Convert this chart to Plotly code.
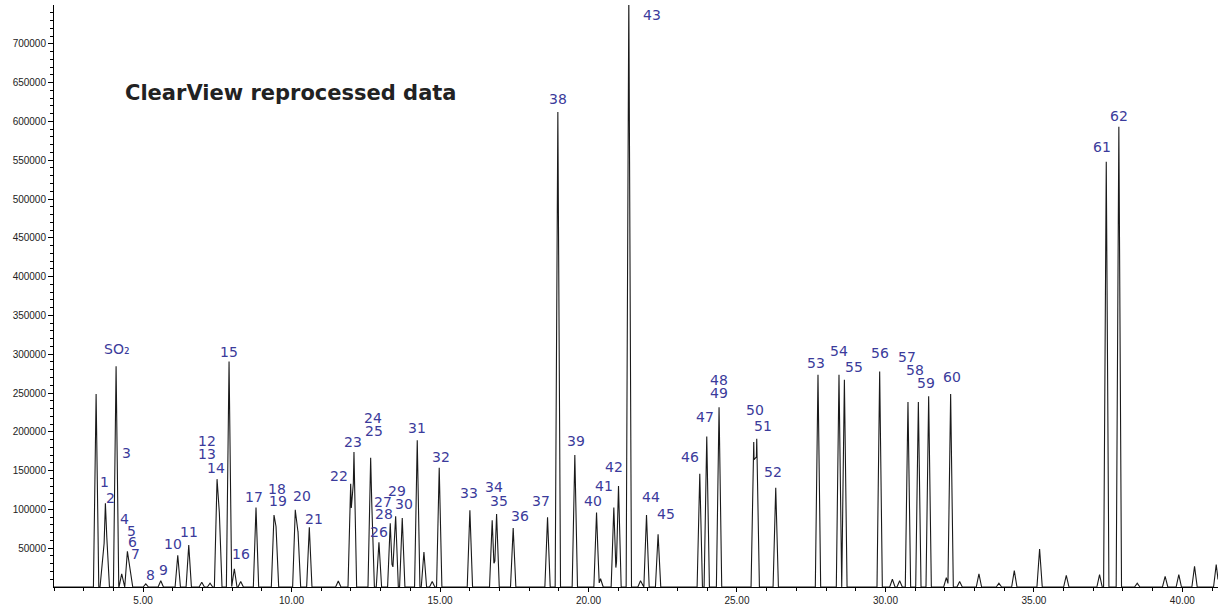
import plotly.graph_objects as go

# ---- data ----
peak_time = [3.418, 3.640, 3.731, 3.778, 4.091, 4.280, 4.472, 4.562, 5.091, 5.596,
             6.168, 6.538, 6.976, 7.255, 7.491, 7.568, 7.895, 8.073, 8.288, 8.803,
             9.409, 9.477, 10.126, 10.217, 10.598, 11.574, 11.991, 12.045, 12.102, 12.664,
             12.700, 12.943, 13.324, 13.472, 13.506, 13.728, 14.233, 14.458, 14.737, 14.973,
             16.006, 16.757, 16.905, 17.464, 18.621, 18.968, 19.540, 20.271, 20.406, 20.853,
             21.011, 21.358, 21.752, 21.954, 22.344, 23.748, 23.983, 24.397, 25.565, 25.666,
             26.306, 27.729, 28.436, 28.618, 29.806, 30.234, 30.479, 30.759, 31.109, 31.456,
             32.051, 32.196, 32.499, 33.149, 33.822, 34.340, 35.192, 36.091, 37.211, 37.437,
             37.861, 38.480, 39.420, 39.880, 40.410, 41.140]
peak_height = [248700, 41000, 108000, 64000, 284600, 17000, 46000, 22000, 4000, 8000,
               41000, 54000, 6000, 5000, 139000, 96000, 290600, 23500, 7000, 102500,
               92700, 78000, 99600, 72000, 77000, 7700, 133000, 120000, 174000, 166700,
               110000, 57700, 82000, 73000, 91000, 88800, 189000, 45000, 7000, 153800,
               99000, 86000, 94000, 76000, 89700, 612000, 170000, 96000, 10600, 102500,
               130000, 760000, 8000, 92700, 68000, 146000, 194000, 231700, 186800, 191000,
               128000, 273500, 273500, 267000, 277800, 10000, 8000, 238500, 238500, 245700,
               12000, 248700, 7000, 17000, 5000, 21000, 49000, 15000, 16000, 548000,
               593000, 5000, 13700, 16000, 26500, 29000]

label_text = ["SO₂", "1", "2", "3", "4", "5", "6", "7", "8", "9", "10", "11", "12", "13", "14",
              "15", "16", "17", "18", "19", "20", "21", "22", "23", "24", "25", "26", "27", "28",
              "29", "30", "31", "32", "33", "34", "35", "36", "37", "38", "39", "40", "41", "42",
              "43", "44", "45", "46", "47", "48", "49", "50", "51", "52", "53", "54", "55", "56",
              "57", "58", "59", "60", "61", "62"]
label_time = [4.115, 3.697, 3.889, 4.428, 4.371, 4.596, 4.653, 4.731, 5.259, 5.683, 6.020, 6.538,
              7.144, 7.144, 7.457, 7.885, 8.288, 8.736, 9.500, 9.554, 10.342, 10.756, 11.607,
              12.058, 12.731, 12.775, 12.933, 13.088, 13.112, 13.539, 13.795, 14.212, 15.030,
              15.983, 16.824, 16.993, 17.689, 18.386, 18.978, 19.574, 20.156, 20.517, 20.853,
              22.122, 22.089, 22.603, 23.411, 23.940, 24.397, 24.397, 25.623, 25.878, 26.215,
              27.676, 28.436, 28.941, 29.806, 30.725, 30.985, 31.355, 32.240, 37.302, 37.851]
label_level = [307200, 135900, 114900, 173100, 87900, 72200, 58100, 43100, 15400, 21800, 55100,
               70900, 188500, 171300, 153300, 302600, 42300, 115800, 126400, 110300, 117900,
               87900, 142700, 187200, 217400, 201300, 71300, 109400, 94400, 123500, 106400,
               205500, 167900, 121300, 128600, 110600, 91400, 110300, 628600, 187600, 110300,
               130800, 155100, 737200, 115800, 94400, 167100, 219600, 266700, 249500, 228200,
               207700, 148700, 288800, 303800, 283700, 301700, 296200, 279500, 262800, 270900,
               567400, 607200]

y_ticks = list(range(50000, 700001, 50000))
x_ticks = [5, 10, 15, 20, 25, 30, 35, 40]

# ---- build the trace: each peak is a narrow triangle, envelope taken at breakpoints ----
HALF = 0.09
pts = {2.0, 41.2}
for t in peak_time:
    pts.update([t - HALF, t, t + HALF])
xs = sorted(p for p in pts if 2.0 <= p <= 41.2)


def env(x):
    best = 0.0
    for t, h in zip(peak_time, peak_height):
        d = abs(x - t)
        if d < HALF:
            best = max(best, h * (1 - d / HALF))
    return best


ys = [env(x) for x in xs]

fig = go.Figure()
fig.add_trace(go.Scatter(x=xs, y=ys, mode="lines",
                         line=dict(color="#1a1a1a", width=1.1),
                         hoverinfo="skip", showlegend=False))

for txt, tx, ty in zip(label_text, label_time, label_level):
    fig.add_annotation(x=tx, y=ty, text=txt, showarrow=False,
                       xanchor="center", yanchor="middle",
                       font=dict(family="DejaVu Sans", size=14, color="#3b3b9b"))

fig.add_annotation(x=(123 - 54) / (1218 - 54), y=(590 - 93) / 585,
                   xref="paper", yref="paper",
                   text="<b>ClearView reprocessed data</b>", showarrow=False,
                   xanchor="left", yanchor="middle",
                   font=dict(family="DejaVu Sans", size=21, color="#222222"))

fig.update_layout(
    width=1218, height=606,
    margin=dict(l=54, r=0, t=5, b=16),
    paper_bgcolor="white", plot_bgcolor="white",
    font=dict(family="Liberation Sans", size=10, color="#222222"),
    xaxis=dict(range=[2.0, 41.2], showgrid=False, zeroline=False,
               showline=True, linecolor="black", linewidth=1,
               tickmode="array", tickvals=x_ticks,
               ticktext=[f"{v:.2f}" for v in x_ticks],
               ticks="outside", ticklen=4, tickcolor="black",
               minor=dict(dtick=1, ticks="outside", ticklen=3, tickcolor="black"),
               tickfont=dict(family="Liberation Sans", size=10, color="#222222")),
    yaxis=dict(range=[0, 750000], showgrid=False, zeroline=False,
               showline=True, linecolor="black", linewidth=1,
               tickmode="array", tickvals=y_ticks,
               ticktext=[str(v) for v in y_ticks],
               ticks="outside", ticklen=5, tickcolor="black",
               minor=dict(tickvals=list(range(10000, 750000, 10000)), ticks="outside",
                          ticklen=3, tickcolor="black"),
               tickfont=dict(family="Liberation Sans", size=10, color="#222222")),
)

fig.write_html("out.html")
